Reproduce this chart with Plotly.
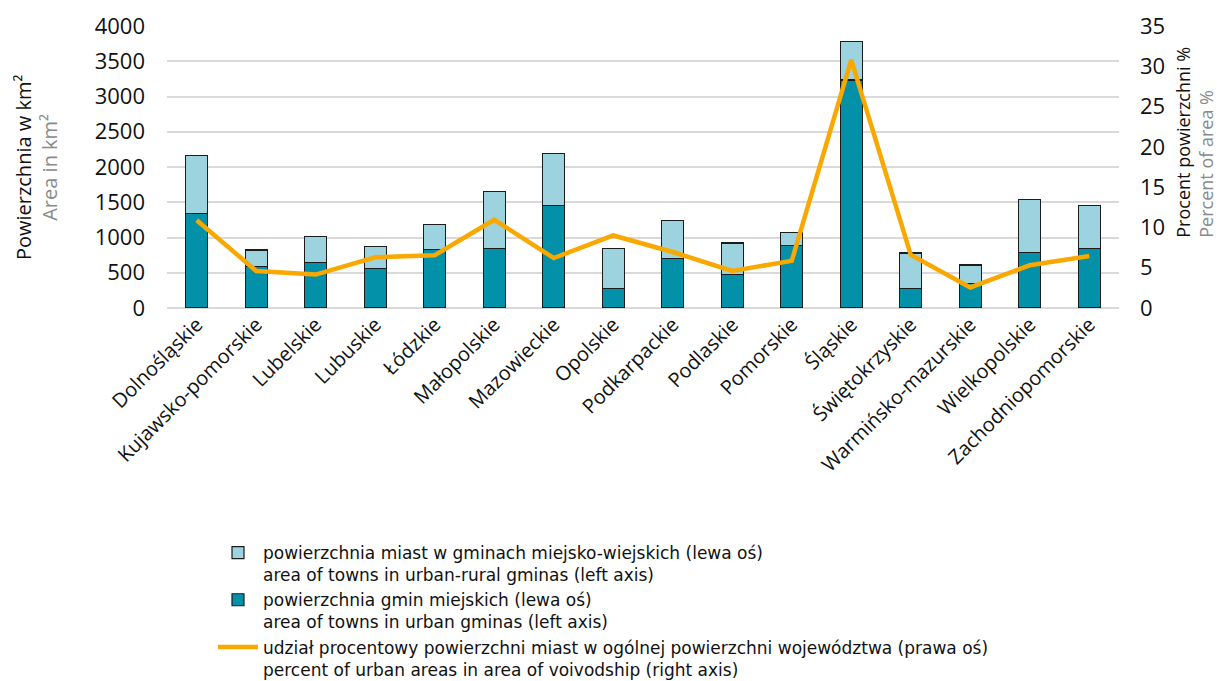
import plotly.graph_objects as go

categories = ["Dolnośląskie", "Kujawsko-pomorskie", "Lubelskie", "Lubuskie", "Łódzkie",
              "Małopolskie", "Mazowieckie", "Opolskie", "Podkarpackie", "Podlaskie",
              "Pomorskie", "Śląskie", "Świętokrzyskie", "Warmińsko-mazurskie",
              "Wielkopolskie", "Zachodniopomorskie"]
urban_gminas = [1345, 588, 645, 564, 834, 848, 1454, 280, 697, 479, 890, 3234, 280, 346, 791, 848]
urban_rural_towns = [820, 236, 369, 308, 350, 810, 739, 563, 544, 444, 181, 550, 501, 265, 753, 611]
percent_share = [10.9, 4.6, 4.15, 6.3, 6.55, 10.95, 6.2, 9.0, 6.95, 4.6, 5.85, 30.8, 6.6, 2.55, 5.3, 6.45]

left_ticks = [0, 500, 1000, 1500, 2000, 2500, 3000, 3500, 4000]
right_ticks = [0, 5, 10, 15, 20, 25, 30, 35]

left_title = "Powierzchnia w km²<br><span style='color:#8a8a8a'>Area in km²</span>"
right_title = "Procent powierzchni %<br><span style='color:#8a8a8a'>Percent of area %</span>"

name_light = ("powierzchnia miast w gminach miejsko-wiejskich (lewa oś)<br>"
              "area of towns in urban-rural gminas (left axis)")
name_dark = ("powierzchnia gmin miejskich (lewa oś)<br>"
             "area of towns in urban gminas (left axis)")
name_line = ("udział procentowy powierzchni miast w ogólnej powierzchni województwa (prawa oś)<br>"
             "percent of urban areas in area of voivodship (right axis)")

FONT = "Open Sans, Noto Sans, sans-serif"
LEG_FONT = "DejaVu Sans, Open Sans, sans-serif"

fig = go.Figure()
fig.add_trace(go.Bar(
    x=categories, y=urban_gminas, name=name_dark, legendrank=2,
    marker=dict(color="#0391A9", line=dict(color="#1c1c1c", width=1.2)),
))
fig.add_trace(go.Bar(
    x=categories, y=urban_rural_towns, name=name_light, legendrank=1,
    marker=dict(color="#9DD3DE", line=dict(color="#1c1c1c", width=1.2)),
))
fig.add_trace(go.Scatter(
    x=categories, y=percent_share, name=name_line, yaxis="y2", legendrank=3,
    mode="lines", line=dict(color="#F9A800", width=4.5),
))

fig.update_layout(
    width=1223, height=681,
    margin=dict(l=159, r=112, t=18, b=381, autoexpand=False),
    paper_bgcolor="white", plot_bgcolor="white",
    barmode="stack", bargap=0.635,
    font=dict(family=FONT, size=19, color="#111111"),
    xaxis=dict(tickangle=-45, tickfont=dict(size=20), showgrid=False,
               showline=False, ticks=""),
    yaxis=dict(range=[0, 4000], tickvals=left_ticks, showgrid=True,
               gridcolor="#d9d9d9", gridwidth=1.5, zeroline=True,
               zerolinecolor="#d9d9d9", zerolinewidth=1.5,
               tickfont=dict(size=22), ticks="", ticklen=0, ticklabelstandoff=21),
    yaxis2=dict(range=[0, 35], tickvals=right_ticks, overlaying="y", side="right",
                showgrid=False, zeroline=False, tickfont=dict(size=22),
                ticklabelstandoff=20),
    legend=dict(xref="container", yref="container",
                x=205 / 1223, xanchor="left", y=1 - 527 / 681, yanchor="top",
                font=dict(family=LEG_FONT, size=17, color="#111111"),
                valign="top", traceorder="normal", tracegroupgap=0, itemwidth=40,
                bgcolor="rgba(0,0,0,0)"),
    annotations=[
        dict(text=left_title, textangle=-90, xref="paper", yref="paper",
             x=-0.1375, y=0.50, xanchor="center", yanchor="middle", align="center",
             showarrow=False, font=dict(size=20, color="#111111")),
        dict(text=right_title, textangle=-90, xref="paper", yref="paper",
             x=1.079, y=0.241, xanchor="center", yanchor="bottom", align="left",
             showarrow=False, font=dict(size=18, color="#111111")),
    ],
    showlegend=True,
)

fig.write_html("out.html")
